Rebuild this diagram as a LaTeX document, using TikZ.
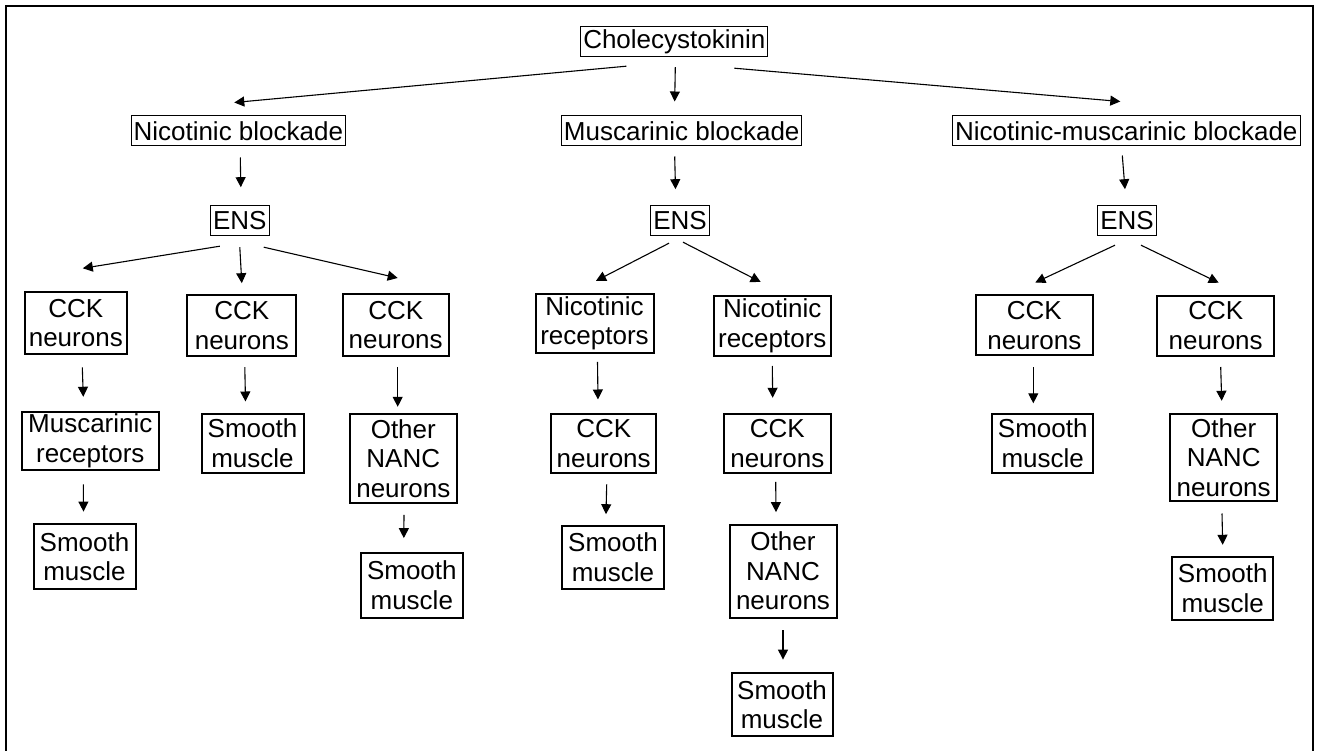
\documentclass[tikz,border=0pt]{standalone}
\usepackage{fontspec}
\setmainfont{Liberation Sans}
\usetikzlibrary{arrows.meta}

\begin{document}
\begin{tikzpicture}[x=1pt, y=1pt, every node/.style={font=\fontsize{26}{29.5}\selectfont, align=center, inner sep=0pt}, blk/.style={draw, line width=1pt, inner xsep=2.5pt, minimum height=30pt}, cell/.style 2 args={draw, line width=2pt, minimum width=#1pt, minimum height=#2pt}, arr/.style={line width=1.1pt, -{Triangle[length=10pt, width=10pt]}}]
  \useasboundingbox (0,0) rectangle (1318,-751);
  \draw[line width=2.8pt] (6,-751) -- (6,-6) -- (1313,-6) -- (1313,-751);
  % top levels
  \node[blk] (chol) at (674.3,-41.7) {Cholecystokinin};
  \node[blk] (nicb) at (238.3,-131) {Nicotinic blockade};
  \node[blk] (musb) at (681.7,-131) {Muscarinic blockade};
  \node[blk] (nmb) at (1126.3,-131) {Nicotinic-muscarinic blockade};
  \node[blk] (ensA) at (239.8,-220.7) {ENS};
  \node[blk] (ensB) at (680,-220.7) {ENS};
  \node[blk] (ensC) at (1127,-220.7) {ENS};
  % nicotinic branch
  \node[cell={102}{62}] (cckAa) at (75.8,-323.3) {CCK\\neurons};
  \node[cell={109}{61}] (cckAb) at (241.8,-325.7) {CCK\\neurons};
  \node[cell={106}{62}] (cckAc) at (395.7,-325) {CCK\\neurons};
  \node[cell={137}{58}] (musrA) at (90.3,-440.8) {Muscarinic\\receptors};
  \node[cell={102}{65}] (smAa) at (84.5,-556.7) {Smooth\\muscle};
  \node[cell={102}{59}] (smAb) at (252.5,-443) {Smooth\\muscle};
  \node[cell={107}{89}] (nancA) at (403.3,-458.3) {Other\\NANC\\neurons};
  \node[cell={102}{65}] (smAc) at (411.8,-585) {Smooth\\muscle};
  % muscarinic branch
  \node[cell={118}{59}] (nicrBa) at (594.5,-323.3) {Nicotinic\\receptors};
  \node[cell={117}{60}] (nicrBb) at (772.3,-326) {Nicotinic\\receptors};
  \node[cell={105}{59}] (cckBa) at (603.7,-443.3) {CCK\\neurons};
  \node[cell={107}{59}] (cckBb) at (777.3,-443.3) {CCK\\neurons};
  \node[cell={102}{63}] (smBa) at (613,-557) {Smooth\\muscle};
  \node[cell={107}{93}] (nancB) at (783,-571) {Other\\NANC\\neurons};
  \node[cell={101}{63}] (smBb) at (782,-704.7) {Smooth\\muscle};
  % nicotinic-muscarinic branch
  \node[cell={117}{60}] (cckCa) at (1034.3,-325.5) {CCK\\neurons};
  \node[cell={117}{60}] (cckCb) at (1215.7,-325.7) {CCK\\neurons};
  \node[cell={101}{59}] (smCa) at (1042.7,-443.2) {Smooth\\muscle};
  \node[cell={107}{87}] (nancC) at (1223.7,-457.3) {Other\\NANC\\neurons};
  \node[cell={101}{63}] (smCb) at (1222.7,-588) {Smooth\\muscle};
  % arrows
  \foreach \a/\sx/\sy/\b/\ex/\ey in {chol/-48/-9/nicb/-4/13, chol/1/-10/musb/-7/14, chol/60/-11/nmb/-6/14,
      nicb/2/-11/ensA/1/18, musb/-7/-10/ensB/-4.5/16, nmb/-4/-9/ensC/-2/16,
      ensA/-20/-10/cckAa/7/23, ensA/0/-11/cckAb/0/11, ensA/24/-11/cckAc/2/15,
      ensB/-11/-7/nicrBa/1.5/12, ensB/3/-6/nicrBb/-11.6/13, ensC/-12/-9/cckCa/1/12, ensC/14/-9/cckCb/3/12,
      cckAa/6.5/-12/musrA/-7/14, cckAb/3/-10/smAb/-7/11, cckAc/2/-10/nancA/-5.6/6,
      musrA/-7/-13.6/smAa/-1/11.6, nancA/0.7/-11/smAc/-8/13.4,
      nicrBa/3/-8/cckBa/-5.7/13.3, nicrBb/0/-9/cckBb/-4.6/15, cckBa/3/-10.6/smBa/-7/10.3,
      cckBb/-1.6/-8/nancB/-7/11.4, nancB/0/-11.7/smBb/1/12.6,
      cckCa/-1/-10.7/smCa/-9.4/9.4, cckCb/5/-10.3/nancC/-2/12, nancC/-1.7/-11.7/smCb/0/10.7}
    \draw[arr] ([shift={(\sx,\sy)}]\a.south) -- ([shift={(\ex,\ey)}]\b.north);
\end{tikzpicture}
\end{document}
